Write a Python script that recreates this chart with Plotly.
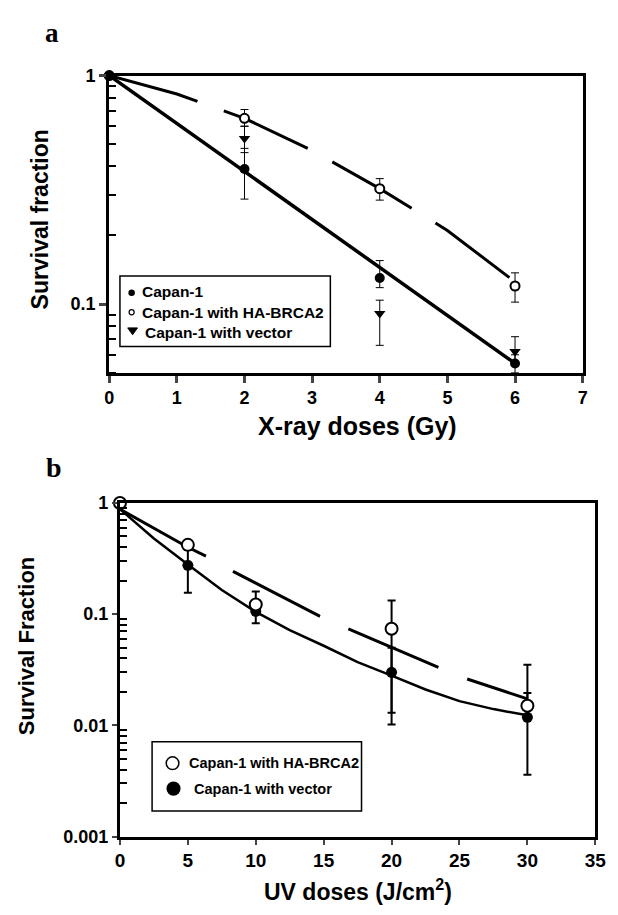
import math
import plotly.graph_objects as go

# ---------------- data ----------------
# Panel a: X-ray
xray_dose = [0, 2, 4, 6]
capan1_a = [1.0, 0.39, 0.13, 0.055]
capan1_a_hi = [1.0, 0.48, 0.155, 0.060]
capan1_a_lo = [1.0, 0.288, 0.118, 0.050]

brca2_a = [1.0, 0.65, 0.32, 0.12]
brca2_a_hi = [1.0, 0.71, 0.354, 0.137]
brca2_a_lo = [1.0, 0.60, 0.285, 0.102]

vector_dose_a = [2, 4, 6]
vector_a = [0.53, 0.091, 0.062]
vector_a_hi = [0.60, 0.104, 0.072]
vector_a_lo = [0.46, 0.066, 0.056]

# fitted curves, panel a
fit_dose_a = [0, 1, 2, 3, 4, 5, 6]
fit_brca2_a = [1.0, 0.83, 0.65, 0.47, 0.32, 0.21, 0.125]
fit_capan1_dose_a = [0, 6]
fit_capan1_a = [1.0, 0.055]

# Panel b: UV
uv_dose = [0, 5, 10, 20, 30]
brca2_b = [1.0, 0.42, 0.122, 0.074, 0.015]
brca2_b_hi = [1.0, 0.42, 0.16, 0.133, 0.035]
brca2_b_lo = [1.0, 0.42, 0.11, 0.013, 0.012]

vector_b = [1.0, 0.275, 0.106, 0.030, 0.0118]
vector_b_hi = [1.0, 0.38, 0.12, 0.05, 0.0195]
vector_b_lo = [1.0, 0.156, 0.083, 0.0102, 0.0036]

fit_dose_b_solid = [0, 2.5, 5, 7.5, 10, 12.5, 15, 17.5, 20, 22.5, 25, 27.5, 30]
fit_vector_b = [0.88, 0.48, 0.28, 0.165, 0.105, 0.072, 0.052, 0.037, 0.028, 0.021, 0.0165, 0.0140, 0.0123]
fit_dose_b_dash = [0, 5, 6.4, 8.4, 10, 14.7, 16.8, 20, 23, 25, 30]
fit_brca2_b = [0.88, 0.40, 0.33, 0.24, 0.19, 0.096, 0.074, 0.050, 0.035, 0.0275, 0.0173]

# tick labels
xa_ticks = [0, 1, 2, 3, 4, 5, 6, 7]
ya_ticks = [0.1, 1]
ya_ticktext = ["0.1", "1"]
xb_ticks = [0, 5, 10, 15, 20, 25, 30, 35]
yb_ticks = [0.001, 0.01, 0.1, 1]
yb_ticktext = ["0.001", "0.01", "0.1", "1"]

legend_a = ["Capan-1", "Capan-1 with HA-BRCA2", "Capan-1 with vector"]
legend_b = ["Capan-1 with HA-BRCA2", "Capan-1 with vector"]

# ---------------- helpers ----------------
W, H = 618, 915
def px(x):
    return x / W
def py(y):
    return 1 - y / H

FONT = "Liberation Sans, Arial, sans-serif"
SERIF = "Liberation Serif, Times New Roman, serif"

def err(y, hi, lo):
    return dict(type="data", symmetric=False,
                array=[h - v for v, h in zip(y, hi)],
                arrayminus=[v - l for v, l in zip(y, lo)])

fig = go.Figure()

# ---- panel a ----
fig.add_trace(go.Scatter(x=fit_dose_a, y=fit_brca2_a, mode="lines",
                         line=dict(color="black", width=3, dash="92px,28px"),
                         xaxis="x", yaxis="y", showlegend=False, hoverinfo="skip"))
fig.add_trace(go.Scatter(x=fit_capan1_dose_a, y=fit_capan1_a, mode="lines",
                         line=dict(color="black", width=3.5),
                         xaxis="x", yaxis="y", showlegend=False, hoverinfo="skip"))
ebar_a = dict(color="black", thickness=1, width=4)
fig.add_trace(go.Scatter(x=vector_dose_a, y=vector_a, mode="markers",
                         marker=dict(symbol="triangle-down", size=10, color="black"),
                         error_y=dict(**err(vector_a, vector_a_hi, vector_a_lo), **ebar_a),
                         xaxis="x", yaxis="y", showlegend=False, cliponaxis=False))
fig.add_trace(go.Scatter(x=xray_dose, y=brca2_a, mode="markers",
                         marker=dict(symbol="circle", size=9, color="white",
                                     line=dict(color="black", width=2)),
                         error_y=dict(**err(brca2_a, brca2_a_hi, brca2_a_lo), **ebar_a),
                         xaxis="x", yaxis="y", showlegend=False, cliponaxis=False))
fig.add_trace(go.Scatter(x=xray_dose, y=capan1_a, mode="markers",
                         marker=dict(symbol="circle", size=10, color="black"),
                         error_y=dict(**err(capan1_a, capan1_a_hi, capan1_a_lo), **ebar_a),
                         xaxis="x", yaxis="y", showlegend=False, cliponaxis=False))

# ---- panel b ----
fig.add_trace(go.Scatter(x=fit_dose_b_dash, y=fit_brca2_b, mode="lines",
                         line=dict(color="black", width=3, dash="98px,31px"),
                         xaxis="x2", yaxis="y2", showlegend=False, hoverinfo="skip"))
fig.add_trace(go.Scatter(x=fit_dose_b_solid, y=fit_vector_b, mode="lines",
                         line=dict(color="black", width=2.5),
                         xaxis="x2", yaxis="y2", showlegend=False, hoverinfo="skip"))
ebar_b = dict(color="black", thickness=2, width=4)
fig.add_trace(go.Scatter(x=uv_dose, y=vector_b, mode="markers",
                         marker=dict(symbol="circle", size=11, color="black"),
                         error_y=dict(**err(vector_b, vector_b_hi, vector_b_lo), **ebar_b),
                         xaxis="x2", yaxis="y2", showlegend=False, cliponaxis=False))
fig.add_trace(go.Scatter(x=uv_dose, y=brca2_b, mode="markers",
                         marker=dict(symbol="circle", size=12, color="white",
                                     line=dict(color="black", width=2)),
                         error_y=dict(**err(brca2_b, brca2_b_hi, brca2_b_lo), **ebar_b),
                         xaxis="x2", yaxis="y2", showlegend=False, cliponaxis=False))

tickfont = dict(family=FONT, size=18, color="black", weight="bold")

def minor_vals(lo_exp, hi_exp):
    vals = []
    for e in range(lo_exp, hi_exp):
        for m in range(2, 10):
            vals.append(m * 10 ** e)
    return vals

ya_minor = [v for v in minor_vals(-2, 0) if v >= 0.05]
yb_minor = minor_vals(-3, 0)

axis_common = dict(showline=True, linecolor="black", mirror=True, showgrid=False,
                   zeroline=False)

fig.update_layout(
    width=W, height=H,
    margin=dict(l=0, r=0, t=0, b=0),
    paper_bgcolor="white", plot_bgcolor="white",
    showlegend=False,
    xaxis=dict(domain=[px(107), px(593)], anchor="y", range=[0, 7],
               tickvals=xa_ticks, ticks="outside", ticklen=7, tickwidth=3,
               tickfont=tickfont, linewidth=3, **axis_common),
    yaxis=dict(domain=[py(371), py(67)], anchor="x", type="log",
               range=[math.log10(0.05), 0],
               tickvals=ya_ticks, ticktext=ya_ticktext, ticks="outside", ticklen=7,
               tickwidth=3, tickfont=tickfont, linewidth=3,
               minor=dict(tickvals=ya_minor, ticks="inside", ticklen=7, tickwidth=2,
                          tickcolor="black", showgrid=False),
               **axis_common),
    xaxis2=dict(domain=[px(118), px(606)], anchor="y2", range=[0, 35],
                tickvals=xb_ticks, ticks="outside", ticklen=5, tickwidth=2,
                tickfont=dict(family=FONT, size=19, color="black", weight="bold"),
                linewidth=3, **axis_common),
    yaxis2=dict(domain=[py(845), py(504)], anchor="x2", type="log",
                range=[-3, 0],
                tickvals=yb_ticks, ticktext=yb_ticktext, ticks="outside", ticklen=5,
                tickwidth=2, tickfont=tickfont, linewidth=3,
                minor=dict(tickvals=yb_minor, ticks="inside", ticklen=7, tickwidth=2,
                           tickcolor="black", showgrid=False),
                **axis_common),
)

ann = []
def text(x, y, s, size, xanchor="center", yanchor="middle", family=FONT, angle=0):
    ann.append(dict(x=px(x), y=py(y), xref="paper", yref="paper", text=s,
                    showarrow=False, xanchor=xanchor, yanchor=yanchor, textangle=angle,
                    font=dict(family=family, size=size, color="black", weight="bold")))

# panel letters
text(48, 24, "a", 27, family=SERIF)
text(50, 468, "b", 28, family=SERIF)
# axis titles
text(36, 214, "Survival fraction", 23, angle=-90)
text(362, 425, "X-ray doses (Gy)", 25)
text(22, 650, "Survival Fraction", 22, angle=-90)
text(362, 900, "UV doses (J/cm<sup>2</sup>)", 23)

# legend a text
text(139, 288, legend_a[0], 15.5, xanchor="left")
text(139, 309, legend_a[1], 15.5, xanchor="left")
text(142, 330, legend_a[2], 15.5, xanchor="left")
# legend b text
text(187, 770, legend_b[0], 14.5, xanchor="left")
text(192, 796, legend_b[1], 14.5, xanchor="left")

shapes = []
def box(x0, y0, x1, y1):
    shapes.append(dict(type="rect", xref="paper", yref="paper",
                       x0=px(x0), x1=px(x1), y0=py(y1), y1=py(y0),
                       line=dict(color="black", width=1.5), fillcolor="white", layer="below"))
def circ(cx, cy, r, filled, lw=1.5):
    shapes.append(dict(type="circle", xref="paper", yref="paper",
                       x0=px(cx - r), x1=px(cx + r), y0=py(cy + r), y1=py(cy - r),
                       line=dict(color="black", width=lw),
                       fillcolor="black" if filled else "white"))

box(118, 272, 334, 344)
box(151, 748, 366, 819)
circ(130, 289, 2.6, True)
circ(130, 309, 2.6, False, 1.2)
tx, ty = 131, 328
shapes.append(dict(type="path", xref="paper", yref="paper",
                   path=f"M {px(tx-5)},{py(ty-3)} L {px(tx+5)},{py(ty-3)} L {px(tx)},{py(ty+4)} Z",
                   line=dict(color="black", width=1), fillcolor="black"))
circ(172, 770, 6.5, False, 1.5)
circ(173, 796, 6.5, True)

fig.update_layout(annotations=ann, shapes=shapes)
fig.write_html("out.html", config={"displayModeBar": False},
               post_script="document.body.style.margin='0';document.body.style.overflow='hidden';")
